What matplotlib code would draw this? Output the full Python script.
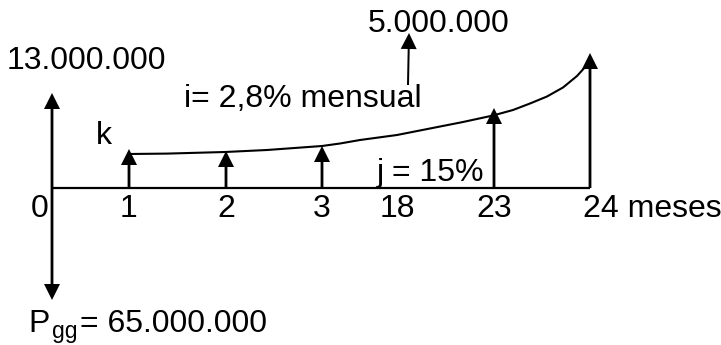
import matplotlib.pyplot as plt

plt.rcParams['font.family'] = ['Liberation Sans', 'DejaVu Sans']

# periodos del diagrama y su posicion en el eje (px)
periodos = ["0", "1", "2", "3", "18", "23", "24 meses"]
pos_x = [52, 129, 226, 322, 397, 494, 590]

# flechas de ingreso: x, altura de la punta
ingresos_x = [129, 226, 322, 494, 590]
ingresos_y = [149, 151, 146, 108, 53]

# curva de crecimiento
curva_x = [129, 167, 225, 267, 322, 340, 360, 397, 430, 463, 493, 513,
           530, 547, 563, 577, 587]
curva_y = [154, 153.6, 152, 150, 146, 143.5, 140, 135, 128.5, 122, 115.5,
           110, 103.5, 96.5, 87.5, 76, 65]

eje_y = 188

fig = plt.figure(figsize=(7.21, 3.45), dpi=100)
ax = fig.add_axes([0, 0, 1, 1])
ax.set_xlim(0, 721)
ax.set_ylim(345, 0)
ax.axis('off')

# eje de tiempo
ax.plot([pos_x[0], pos_x[-1]], [eje_y, eje_y], color='black', lw=1.6,
        solid_capstyle='butt')


def flecha(x0, y0, x1, y1, w=2.8):
    ax.arrow(x0, y0, x1 - x0, y1 - y0, width=w, head_width=16,
             head_length=16, length_includes_head=True,
             color='black', lw=0)


# flujo inicial
flecha(52, eje_y, 52, 93)
flecha(52, eje_y, 52, 300)

for x, y in zip(ingresos_x, ingresos_y):
    flecha(x, eje_y, x, y)

ax.plot(curva_x, curva_y, color='black', lw=1.5, solid_joinstyle='round')

# flecha del valor 5.000.000
flecha(408, 85, 409, 33, w=2.0)

fs = 23
for lab, x in zip(periodos, pos_x):
    if lab == "0":
        ax.text(40, 217, lab, ha='center', va='baseline', fontsize=fs)
    elif lab.startswith("24"):
        ax.text(583, 217, lab, ha='left', va='baseline', fontsize=fs)
    else:
        ax.text(x, 217, lab, ha='center', va='baseline', fontsize=fs)

ax.text(7, 69, "13.000.000", ha='left', va='baseline', fontsize=fs)
ax.text(368, 32, "5.000.000", ha='left', va='baseline', fontsize=fs)
ax.text(184, 107, "i= 2,8% mensual", ha='left', va='baseline', fontsize=fs)
ax.text(96, 144, "k", ha='left', va='baseline', fontsize=fs)
ax.text(377, 181, "j = 15%", ha='left', va='baseline', fontsize=fs)

# P con subindice gg
ax.text(28, 332, "P", ha='left', va='baseline', fontsize=fs)
ax.text(52, 338, "gg", ha='left', va='baseline', fontsize=16.5)
ax.text(80, 332, "= 65.000.000", ha='left', va='baseline', fontsize=fs)

fig.savefig('out.png', dpi=100)
